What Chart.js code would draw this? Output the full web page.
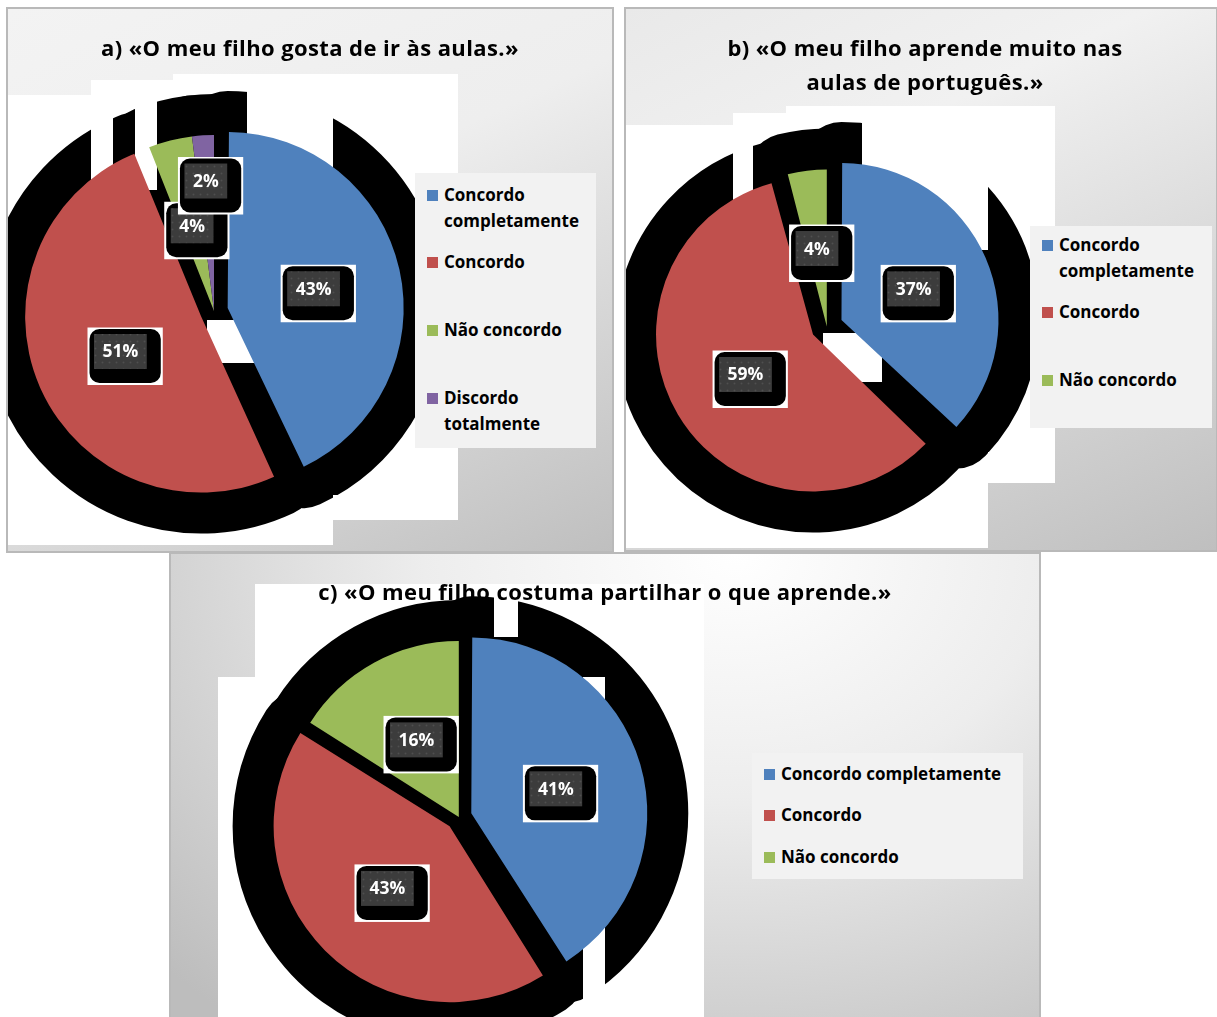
<!DOCTYPE html>
<html>
<head>
<meta charset="utf-8">
<script src="https://cdn.jsdelivr.net/npm/chart.js@4.4.1/dist/chart.umd.min.js"></script>
<style>
  body { margin: 0; background: #fff; width: 1217px; height: 1017px; overflow: hidden; position: relative; font-family: "Open Sans", Lato, sans-serif; }
  .panel { position: absolute; box-sizing: border-box; border: 2px solid #b9b9b9; overflow: hidden; }
  .panel canvas { position: absolute; left: 0; top: 0; z-index: 2; }
  .fundo { position: absolute; background: #fff; z-index: 1; }
  .titulo { position: absolute; z-index: 3; font-weight: bold; font-size: 22px; letter-spacing: 0.4px; line-height: 34px; text-align: center; color: #000; white-space: nowrap; }
  .legenda { position: absolute; z-index: 3; background: #f2f2f2; }
  .item { position: absolute; left: 29px; font-weight: bold; font-size: 17px; line-height: 26.7px; color: #000; }
  .quad { position: absolute; left: -17px; top: 8px; width: 11px; height: 11px; }
</style>
</head>
<body>
<script>
var categorias = ['Concordo completamente', 'Concordo', 'Não concordo', 'Discordo totalmente'];
var cores = ['#4F81BD', '#C0504D', '#9BBB59', '#8064A2'];

var gostaAulas = [43, 51, 4, 2];
var aprendePortugues = [37, 59, 4];
var partilhaAprende = [41, 43, 16];

var tituloA = ['a) «O meu filho gosta de ir às aulas.»'];
var tituloB = ['b) «O meu filho aprende muito nas', 'aulas de português.»'];
var tituloC = ['c) «O meu filho costuma partilhar o que aprende.»'];

// geometria de cada painel (coordenadas da página)
var paineis = [
  {
    caixa: [6, 7, 608, 546], fundoCss: 'linear-gradient(155deg, #f3f3f3 0%, #eeeeee 40%, #bfbfbf 100%)',
    valores: gostaAulas, titulo: tituloA, tituloX: 310, tituloY: 30,
    centro: [214, 311], raio: 176, explodir: [14, 14, 0, 0], distRotulo: [0.5, 0.5, 0.5, 0.74],
    legenda: { x: 415, y: 173, w: 181, h: 275, primeira: 22, passo: 67.7, largura: 150 },
    brancos: [[8, 95, 333, 545], [91, 80, 458, 520], [173, 74, 458, 80]],
    limpar: [[91, 60, 113, 250], [135, 60, 157, 190], [247, 60, 333, 250], [207, 320, 257, 363], [333, 495, 612, 552]]
  },
  {
    caixa: [624, 7, 594, 545], fundoCss: 'linear-gradient(155deg, #e9e9e9 0%, #f1f1f1 30%, #bfbfbf 100%)',
    valores: aprendePortugues, titulo: tituloB, tituloX: 925, tituloY: 30,
    centro: [826.8, 326.4], raio: 157, explodir: [16, 16, 0], distRotulo: [0.5, 0.5, 0.5],
    legenda: { x: 1030, y: 226, w: 182, h: 202, primeira: 19, passo: 67.5, largura: 150 },
    brancos: [[626, 125, 988, 548], [733, 113, 1055, 483], [786, 106, 1055, 113]],
    limpar: [[733, 100, 753, 260], [862, 100, 988, 250], [823, 333, 882, 382], [988, 452, 1217, 552]]
  },
  {
    caixa: [169, 552, 872, 470], fundoCss: 'radial-gradient(ellipse 90% 130% at 65% 0%, #ffffff 0%, #ededed 40%, #bdbdbd 100%)',
    valores: partilhaAprende, titulo: tituloC, tituloX: 605, tituloY: 574,
    centro: [458.8, 817], raio: 176, explodir: [13, 13, 0], distRotulo: [0.5, 0.5, 0.5],
    legenda: { x: 752, y: 753, w: 271, h: 126, primeira: 21, passo: 41.5, largura: 260 },
    brancos: [[255, 584, 704, 1017], [218, 677, 704, 1017]],
    limpar: [[494, 580, 518, 637], [583, 677, 605, 1017], [605, 987, 704, 1017]]
  }
];

function retArredondado(ctx, x, y, w, h, r) {
  ctx.beginPath();
  ctx.moveTo(x + r, y);
  ctx.arcTo(x + w, y, x + w, y + h, r);
  ctx.arcTo(x + w, y + h, x, y + h, r);
  ctx.arcTo(x, y + h, x, y, r);
  ctx.arcTo(x, y, x + w, y, r);
  ctx.closePath();
}

function padraoCinza(ctx) {
  var c = document.createElement('canvas');
  c.width = 7; c.height = 7;
  var g = c.getContext('2d');
  g.fillStyle = '#3c3c3c';
  g.fillRect(0, 0, 7, 7);
  g.fillStyle = '#4f4f4f';
  g.beginPath(); g.arc(3.5, 3.5, 1, 0, Math.PI * 2); g.fill();
  return ctx.createPattern(c, 'repeat');
}

paineis.forEach(function(p) {
  var ox = p.caixa[0] + 2, oy = p.caixa[1] + 2;
  var larg = p.caixa[2] - 4, alt = p.caixa[3] - 4;
  var n = p.valores.length;

  var painel = document.createElement('div');
  painel.className = 'panel';
  painel.style.left = p.caixa[0] + 'px';
  painel.style.top = p.caixa[1] + 'px';
  painel.style.width = p.caixa[2] + 'px';
  painel.style.height = p.caixa[3] + 'px';
  painel.style.background = p.fundoCss;
  document.body.appendChild(painel);

  p.brancos.forEach(function(r) {
    var d = document.createElement('div');
    d.className = 'fundo';
    d.style.left = (r[0] - ox) + 'px';
    d.style.top = (r[1] - oy) + 'px';
    d.style.width = (r[2] - r[0]) + 'px';
    d.style.height = (r[3] - r[1]) + 'px';
    painel.appendChild(d);
  });

  var canvas = document.createElement('canvas');
  canvas.width = larg;
  canvas.height = alt;
  painel.appendChild(canvas);

  var tit = document.createElement('div');
  tit.className = 'titulo';
  tit.style.left = (p.tituloX - ox - 350) + 'px';
  tit.style.width = '700px';
  tit.style.top = (p.tituloY - oy) + 'px';
  tit.innerHTML = p.titulo.join('<br>');
  painel.appendChild(tit);

  var L = p.legenda;
  var leg = document.createElement('div');
  leg.className = 'legenda';
  leg.style.left = (L.x - ox) + 'px';
  leg.style.top = (L.y - oy) + 'px';
  leg.style.width = L.w + 'px';
  leg.style.height = L.h + 'px';
  for (var i = 0; i < n; i++) {
    var it = document.createElement('div');
    it.className = 'item';
    it.style.top = (L.primeira + i * L.passo - 13.35) + 'px';
    it.style.width = L.largura + 'px';
    it.innerHTML = '<span class="quad" style="background:' + cores[i] + '"></span>' + categorias[i];
    leg.appendChild(it);
  }
  painel.appendChild(leg);

  // area do grafico centrada no centro da pizza
  var cx = p.centro[0] - ox, cy = p.centro[1] - oy, meia = 40;

  var sombra = {
    id: 'sombra',
    beforeDatasetsDraw: function(chart) {
      var arcos = chart.getDatasetMeta(0).data;
      arcos.forEach(function(arco, i) {
        // o Chart.js aumenta o raio das fatias deslocadas; repor o raio comum
        var fix = 1 - Math.sin(Math.min(Math.PI, arco.circumference));
        arco.outerRadius = p.raio - p.explodir[i] * fix;
      });
      var ctx = chart.ctx;
      ctx.save();
      ctx.fillStyle = '#000';
      ctx.strokeStyle = '#000';
      ctx.lineWidth = 82;
      ctx.lineJoin = 'round';
      arcos.forEach(function(arco, i) {
        var meio = (arco.startAngle + arco.endAngle) / 2;
        var vx = arco.x + Math.cos(meio) * p.explodir[i];
        var vy = arco.y + Math.sin(meio) * p.explodir[i];
        ctx.beginPath();
        ctx.moveTo(vx, vy);
        ctx.arc(vx, vy, p.raio, arco.startAngle, arco.endAngle);
        ctx.closePath();
        ctx.fill();
        ctx.stroke();
      });
      ctx.restore();
      p.limpar.forEach(function(r) {
        ctx.clearRect(r[0] - ox, r[1] - oy, r[2] - r[0], r[3] - r[1]);
      });
    }
  };

  var rotulos = {
    id: 'rotulos',
    afterDatasetsDraw: function(chart) {
      var ctx = chart.ctx;
      var arcos = chart.getDatasetMeta(0).data;
      var cinza = padraoCinza(ctx);
      ctx.save();
      ctx.font = 'bold 17.5px "Open Sans", Lato, sans-serif';
      ctx.textAlign = 'center';
      ctx.textBaseline = 'middle';
      arcos.forEach(function(arco, i) {
        var meio = (arco.startAngle + arco.endAngle) / 2;
        var d = p.explodir[i] + p.raio * p.distRotulo[i];
        var px = arco.x + Math.cos(meio) * d;
        var py = arco.y + Math.sin(meio) * d;
        var texto = p.valores[i] + '%';
        var gw = ctx.measureText(texto).width + 17, gh = 35;
        var gx = px - gw / 2, gy = py - gh / 2;
        var bx = gx - 4.5, by = gy - 5, bw = gw + 18.5, bh = gh + 19;
        ctx.fillStyle = '#fff';
        ctx.fillRect(bx - 2, by - 1.5, bw + 4, bh + 3.5);
        ctx.fillStyle = '#000';
        retArredondado(ctx, bx, by, bw, bh, 10);
        ctx.fill();
        ctx.fillStyle = cinza;
        ctx.fillRect(gx, gy, gw, gh);
        ctx.fillStyle = '#fff';
        ctx.fillText(texto, px, py + 1);
      });
      ctx.restore();
    }
  };

  new Chart(canvas.getContext('2d'), {
    type: 'pie',
    data: {
      labels: categorias.slice(0, n),
      datasets: [{
        data: p.valores,
        backgroundColor: cores.slice(0, n),
        borderWidth: 0,
        offset: p.explodir.map(function(e) { return e * 4; })
      }]
    },
    options: {
      responsive: false,
      animation: false,
      events: [],
      radius: p.raio,
      layout: { padding: { left: cx - meia, right: larg - cx - meia, top: cy - meia, bottom: alt - cy - meia } },
      plugins: { legend: { display: false }, tooltip: { enabled: false } }
    },
    plugins: [sombra, rotulos]
  });
});
</script>
</body>
</html>
